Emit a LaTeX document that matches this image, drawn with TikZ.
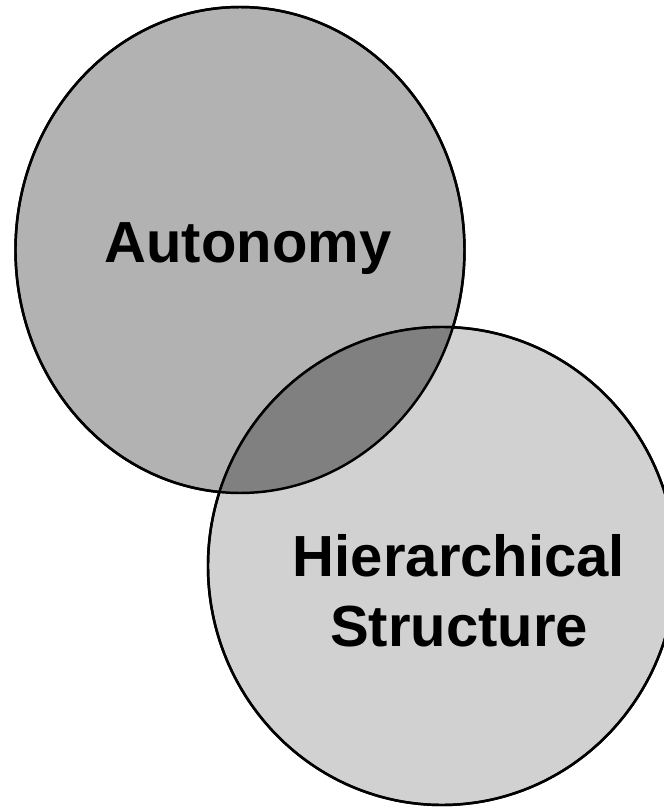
\documentclass[tikz,border=0pt]{standalone}
\usepackage{fontspec}
\setmainfont{Liberation Sans}
\tikzset{label text/.style={font=\bfseries\fontsize{16.5}{19.9}\selectfont}}
\begin{document}
\begin{tikzpicture}[line width = 0.7pt]

    \useasboundingbox (0,0) rectangle (6.64,8.07);

    \coordinate (auto c) at (2.40,5.57);
    \coordinate (hier c) at (4.42,2.41);

    \draw [fill=black!30] (auto c) ellipse (2.245 and 2.43);
    \draw [fill=black!18] (hier c) ellipse (2.34 and 2.39);

    % overlap of the two sets
    \begin{scope}
        \clip (auto c) ellipse (2.245 and 2.43);
        \fill [black!50] (hier c) ellipse (2.34 and 2.39);
    \end{scope}
    \draw (auto c) ellipse (2.245 and 2.43);
    \draw (hier c) ellipse (2.34 and 2.39);

    \node [label text, anchor=base] (autonomy) at (2.48,5.45) {Autonomy};
    \node [label text, align=center] (hierarchy) at (4.59,2.16) {Hierarchical\\Structure};

\end{tikzpicture}
\end{document}
